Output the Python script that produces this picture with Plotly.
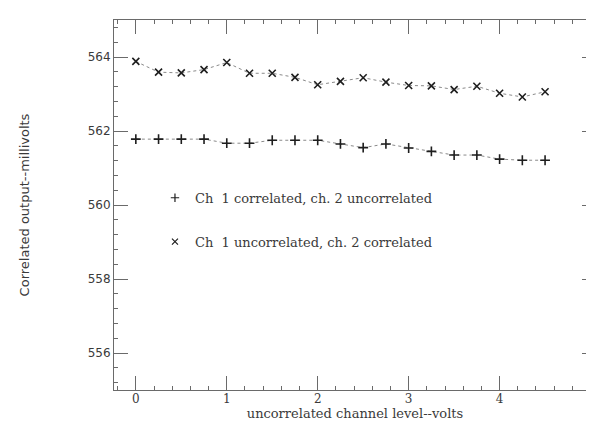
import plotly.graph_objects as go

# Data
level_volts = [0, 0.25, 0.5, 0.75, 1.0, 1.25, 1.5, 1.75, 2.0, 2.25, 2.5,
               2.75, 3.0, 3.25, 3.5, 3.75, 4.0, 4.25, 4.5]
ch1_corr = [561.78, 561.78, 561.78, 561.78, 561.67, 561.67, 561.75, 561.75,
            561.75, 561.65, 561.55, 561.65, 561.54, 561.45, 561.35, 561.35,
            561.24, 561.21, 561.21]
ch2_corr = [563.88, 563.59, 563.57, 563.66, 563.85, 563.56, 563.56, 563.45,
            563.25, 563.34, 563.44, 563.32, 563.23, 563.22, 563.12, 563.21,
            563.02, 562.92, 563.06]
series_names = ["Ch  1 correlated, ch. 2 uncorrelated",
                "Ch  1 uncorrelated, ch. 2 correlated"]
x_ticks = [0, 1, 2, 3, 4, 5]
y_ticks = [556, 558, 560, 562, 564]

MARK = "#1e1e1e"
LINE = "#8a8a8a"
TEXT = "#3a3a3a"
SERIF = "DejaVu Serif"
SANS = "DejaVu Sans"

fig = go.Figure()
symbols = ["cross-thin", "x-thin"]
for i, ys in enumerate([ch1_corr, ch2_corr]):
    fig.add_trace(go.Scatter(
        x=level_volts, y=ys, mode="lines+markers", showlegend=False,
        line=dict(color=LINE, width=1, dash="dot"),
        marker=dict(symbol=symbols[i], size=7,
                    line=dict(color=MARK, width=1.6)),
    ))
    # legend entry (marker only)
    fig.add_trace(go.Scatter(
        x=[None], y=[None], mode="markers", name=series_names[i],
        legendgroup=f"g{i}",
        marker=dict(symbol=symbols[i], size=6,
                    line=dict(color=MARK, width=1.2)),
    ))

axis_common = dict(
    showgrid=False, zeroline=False, showline=True, linecolor="#6a6a6a",
    linewidth=1, mirror="allticks", ticks="inside", ticklen=14,
    tickcolor="#6a6a6a", tickwidth=1,
)

fig.update_xaxes(
    **axis_common, range=[-0.24, 5.06], tickvals=x_ticks,
    ticktext=[str(v) for v in x_ticks],
    minor=dict(dtick=0.2, ticks="inside", ticklen=4, tickcolor="#6a6a6a"),
    tickfont=dict(family=SERIF, size=12, color=TEXT),
    ticklabelstandoff=-2, ticklabeloverflow="allow",
    title=dict(text="uncorrelated channel level--volts",
               font=dict(family=SERIF, size=13, color=TEXT), standoff=0),
)
fig.update_yaxes(
    **axis_common, range=[555, 565], tickvals=y_ticks,
    ticktext=[str(v) for v in y_ticks],
    minor=dict(dtick=0.4, ticks="inside", ticklen=4, tickcolor="#6a6a6a"),
    tickfont=dict(family=SANS, size=12, color=TEXT),
    title=dict(text="Correlated output--millivolts",
               font=dict(family=SANS, size=13, color=TEXT), standoff=55),
)

fig.update_layout(
    width=594, height=423,
    margin=dict(l=106, r=6, t=12, b=41, autoexpand=False),
    paper_bgcolor="white", plot_bgcolor="white",
    legend=dict(x=0.085, y=0.56, xanchor="left", yanchor="top",
                bgcolor="rgba(0,0,0,0)", tracegroupgap=24,
                font=dict(family=SERIF, size=13, color=TEXT)),
)

fig.write_html("out.html")
